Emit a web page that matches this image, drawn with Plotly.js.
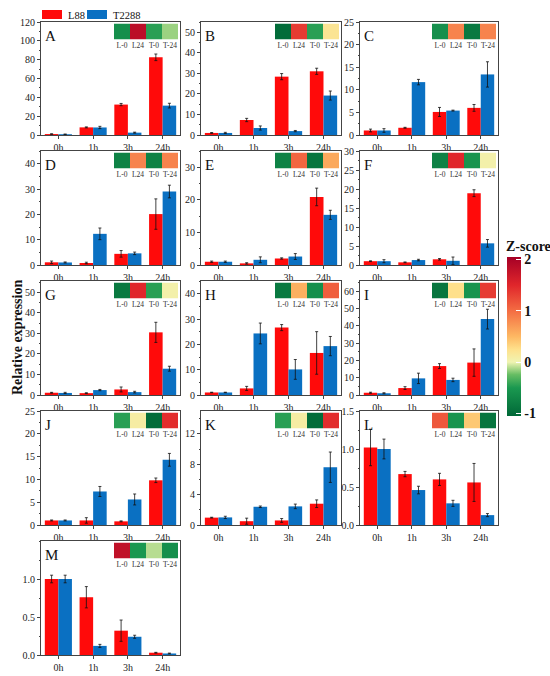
<!DOCTYPE html>
<html><head><meta charset="utf-8">
<script src="https://cdn.plot.ly/plotly-3.0.1.min.js"></script>
<style>html,body{margin:0;padding:0;background:#fff}#chart{width:550px;height:676px}</style>
</head><body><div id="chart"></div>
<script>
// ---------- data ----------
const timePoints = ['0h', '1h', '3h', '24h'];
const heatLabels = ['L-0', 'L24', 'T-0', 'T-24'];
const seriesNames = ['L88', 'T2288'];
const panelLetters = ['A','B','C','D','E','F','G','H','I','J','K','L','M'];

const A_L88 = [1.0, 8.1, 32.3, 82.5];   const A_L88Err = [0.3, 0.5, 1.2, 3.5];
const A_T2288 = [0.8, 8.0, 2.5, 31.2];  const A_T2288Err = [0.2, 1.2, 0.5, 2.5];
const A_z = [-0.6, 1.85, -0.45, -0.15];

const B_L88 = [1.0, 7.3, 28.4, 31.0];   const B_L88Err = [0.2, 0.8, 1.5, 1.5];
const B_T2288 = [1.0, 3.4, 1.9, 19.2];  const B_T2288Err = [0.3, 1.0, 0.3, 2.2];
const B_z = [-1.0, 1.35, -0.45, 0.2];

const C_L88 = [1.0, 1.6, 5.1, 6.0];     const C_L88Err = [0.3, 0.1, 1.0, 0.75];
const C_T2288 = [1.0, 11.7, 5.4, 13.4]; const C_T2288Err = [0.4, 0.6, 0.1, 2.8];
const C_z = [-0.6, 0.85, -0.85, 0.85];

const D_L88 = [1.06, 0.8, 4.4, 20.1];   const D_L88Err = [0.5, 0.3, 1.3, 6.0];
const D_T2288 = [1.0, 12.3, 4.6, 29.0]; const D_T2288Err = [0.2, 2.3, 0.5, 2.5];
const D_z = [-0.75, 0.85, -0.75, 0.85];

const E_L88 = [1.0, 0.5, 2.0, 20.9];    const E_L88Err = [0.2, 0.2, 0.2, 2.7];
const E_T2288 = [1.0, 1.6, 2.6, 15.4];  const E_T2288Err = [0.2, 0.9, 0.9, 1.4];
const E_z = [-0.75, 1.05, -0.9, 0.6];

const F_L88 = [1.0, 0.7, 1.5, 18.9];    const F_L88Err = [0.1, 0.1, 0.2, 0.9];
const F_T2288 = [1.0, 1.3, 1.1, 5.7];   const F_T2288Err = [0.4, 0.2, 1.0, 1.0];
const F_z = [-0.75, 1.5, -0.55, 0.05];

const G_L88 = [1.1, 0.9, 2.7, 30.5];    const G_L88Err = [0.2, 0.2, 1.2, 4.9];
const G_T2288 = [1.0, 2.4, 1.4, 12.8];  const G_T2288Err = [0.3, 0.3, 0.4, 1.2];
const G_z = [-0.85, 1.5, -0.45, 0.05];

const H_L88 = [1.0, 2.6, 26.6, 16.6];   const H_L88Err = [0.1, 0.8, 1.2, 8.4];
const H_T2288 = [1.0, 24.3, 10.1, 19.3]; const H_T2288Err = [0.1, 4.1, 3.9, 3.8];
const H_z = [-0.85, 0.55, -0.6, 1.1];

const I_L88 = [1.3, 4.0, 16.7, 18.7];   const I_L88Err = [0.3, 0.8, 1.4, 7.9];
const I_T2288 = [1.0, 9.6, 8.7, 43.8];  const I_T2288Err = [0.3, 3.0, 1.0, 5.7];
const I_z = [-0.9, 0.25, -0.55, 1.35];

const J_L88 = [1.0, 1.0, 0.8, 9.8];     const J_L88Err = [0.1, 0.6, 0.1, 0.5];
const J_T2288 = [1.0, 7.35, 5.6, 14.3]; const J_T2288Err = [0.1, 1.1, 1.2, 1.4];
const J_z = [-0.45, 0.1, -1.0, 1.45];

const K_L88 = [0.97, 0.5, 0.6, 2.8];    const K_L88Err = [0.05, 0.4, 0.25, 0.5];
const K_T2288 = [1.0, 2.4, 2.45, 7.6];  const K_T2288Err = [0.15, 0.1, 0.3, 2.0];
const K_z = [-0.45, 0.1, -1.0, 1.45];

const L_L88 = [1.02, 0.67, 0.60, 0.56];   const L_L88Err = [0.24, 0.035, 0.08, 0.25];
const L_T2288 = [1.0, 0.46, 0.285, 0.13]; const L_T2288Err = [0.13, 0.05, 0.04, 0.02];
const L_z = [1.15, -0.55, 0.4, -0.9];

const M_L88 = [1.0, 0.76, 0.32, 0.03];    const M_L88Err = [0.05, 0.14, 0.14, 0.005];
const M_T2288 = [1.0, 0.12, 0.24, 0.02];  const M_T2288Err = [0.05, 0.02, 0.02, 0.005];
const M_z = [1.8, -0.5, -0.1, -0.6];

const panelL88 = [A_L88,B_L88,C_L88,D_L88,E_L88,F_L88,G_L88,H_L88,I_L88,J_L88,K_L88,L_L88,M_L88];
const panelL88Err = [A_L88Err,B_L88Err,C_L88Err,D_L88Err,E_L88Err,F_L88Err,G_L88Err,H_L88Err,I_L88Err,J_L88Err,K_L88Err,L_L88Err,M_L88Err];
const panelT2288 = [A_T2288,B_T2288,C_T2288,D_T2288,E_T2288,F_T2288,G_T2288,H_T2288,I_T2288,J_T2288,K_T2288,L_T2288,M_T2288];
const panelT2288Err = [A_T2288Err,B_T2288Err,C_T2288Err,D_T2288Err,E_T2288Err,F_T2288Err,G_T2288Err,H_T2288Err,I_T2288Err,J_T2288Err,K_T2288Err,L_T2288Err,M_T2288Err];
const panelZ = [A_z,B_z,C_z,D_z,E_z,F_z,G_z,H_z,I_z,J_z,K_z,L_z,M_z];

// ---------- axis settings ----------
const yMax   = [120, 55, 25, 45, 35, 30, 55.5, 45, 65.8, 25, 15, 1.5, 1.5];
const yDtick = [20, 10, 5, 10, 10, 5, 10, 10, 10, 5, 4, 0.5, 0.5];

// ---------- layout geometry (px) ----------
const W = 550, H = 676;
const colX = [[41, 180], [201, 341], [360, 498]];
const rowY = [[22, 135], [151, 265], [281, 395], [411, 525], [541, 655]];
const FONT = 'Liberation Serif, Times New Roman, serif';
const RED = '#ff0a0a', BLUE = '#0a70c2';

const px = x => x / W;
const py = y => 1 - y / H;

const legendBase = {orientation: 'h', y: py(0), xanchor: 'left', yanchor: 'top',
  font: {family: FONT, size: 10.5, color: '#111'}, bgcolor: 'rgba(0,0,0,0)',
  itemwidth: 30, tracegroupgap: 0, itemclick: false};

const traces = [];
const layout = {
  width: W, height: H,
  margin: {l: 0, r: 0, t: 0, b: 0},
  paper_bgcolor: '#fff', plot_bgcolor: '#fff',
  font: {family: FONT, color: '#222', size: 10},
  barmode: 'group', bargap: 0.22, bargroupgap: 0,
  showlegend: true,
  legend: Object.assign({}, legendBase, {x: px(28)}),
  legend2: Object.assign({}, legendBase, {x: px(73)}),
  coloraxis: {
    cmin: -1.05, cmax: 2.05,
    colorscale: [
      [0.0, '#006837'], [0.177, '#1a9850'], [0.26, '#66bd63'], [0.339, '#f0f4b2'],
      [0.42, '#fee08b'], [0.5, '#fdb863'], [0.661, '#f46d43'], [0.823, '#e0262b'], [1.0, '#a50026']
    ],
    colorbar: {
      x: px(507), xanchor: 'left', xpad: 0, ypad: 0, thickness: 14,
      len: (416 - 257) / H, lenmode: 'fraction', y: py(336.5), yanchor: 'middle',
      tickvals: [-1, 0, 1, 2], ticktext: ['-1', '0', '1', '2'],
      ticks: 'inside', ticklen: 5, tickcolor: '#ffffff', tickwidth: 1,
      tickfont: {family: FONT, size: 14, color: '#111', weight: 'bold'},
      outlinewidth: 0
    }
  },
  annotations: [],
  shapes: []
};

panelLetters.forEach((letter, i) => {
  const col = i % 3, row = Math.floor(i / 3);
  const [x0, x1] = colX[col];
  const [y0, y1] = rowY[row];
  const bi = 2 * i + 1, hi = 2 * i + 2;
  const bx = 'x' + (bi === 1 ? '' : bi), by = 'y' + (bi === 1 ? '' : bi);
  const hx = 'x' + hi, hy = 'y' + hi;

  traces.push({
    type: 'bar', name: seriesNames[0], x: timePoints, y: panelL88[i],
    xaxis: bx, yaxis: by, marker: {color: RED, line: {width: 0}},
    error_y: {type: 'data', array: panelL88Err[i], visible: true, color: '#111', thickness: 0.8, width: 1.5},
    legendgroup: 'L88', legend: 'legend', showlegend: i === 0, hoverinfo: 'skip'
  });
  traces.push({
    type: 'bar', name: seriesNames[1], x: timePoints, y: panelT2288[i],
    xaxis: bx, yaxis: by, marker: {color: BLUE, line: {width: 0}},
    error_y: {type: 'data', array: panelT2288Err[i], visible: true, color: '#111', thickness: 0.8, width: 1.5},
    legendgroup: 'T2288', legend: 'legend2', showlegend: i === 0, hoverinfo: 'skip'
  });
  traces.push({
    type: 'heatmap', z: [panelZ[i]], x: heatLabels, y: ['z'],
    xaxis: hx, yaxis: hy, coloraxis: 'coloraxis', showlegend: false, hoverinfo: 'skip'
  });

  const bxKey = 'xaxis' + (bi === 1 ? '' : bi), byKey = 'yaxis' + (bi === 1 ? '' : bi);
  layout[bxKey] = {
    domain: [px(x0), px(x1)], anchor: by, type: 'category', range: [-0.5, 3.5],
    showline: true, linecolor: '#444', linewidth: 1, mirror: true,
    ticks: 'outside', ticklen: 3, tickcolor: '#444', showgrid: false, zeroline: false,
    tickfont: {family: FONT, size: 10, color: '#222'}, fixedrange: true
  };
  const yax = {
    domain: [py(y1), py(y0)], anchor: bx, range: [0, yMax[i]], dtick: yDtick[i], tick0: 0,
    showline: true, linecolor: '#444', linewidth: 1, mirror: true,
    ticks: 'outside', ticklen: 3, tickcolor: '#444', showgrid: false, zeroline: false,
    tickfont: {family: FONT, size: 10, color: '#222'}, fixedrange: true,
    minor: {ticks: 'outside', ticklen: 1.5, dtick: yDtick[i] / 2, tickcolor: '#444', showgrid: false}
  };
  if (yDtick[i] < 1) yax.tickformat = '.1f';
  if (letter === 'M') { yax.tickmode = 'array'; yax.tickvals = [0, 0.5, 1.0]; yax.ticktext = ['0.0','0.5','1.0']; }
  layout[byKey] = yax;

  layout['xaxis' + hi] = {
    domain: [px(x1 - 66), px(x1 - 2)], anchor: hy, showgrid: false, zeroline: false,
    showline: false, ticks: '', ticklabelstandoff: 0,
    tickfont: {family: FONT, size: 7.5, color: '#333'}, fixedrange: true
  };
  layout['yaxis' + hi] = {
    domain: [py(y0 + 17.5), py(y0 + 1.5)], anchor: hx, visible: false, fixedrange: true
  };

  layout.annotations.push({
    text: letter, xref: 'paper', yref: 'paper', x: px(x0 + 2), y: py(y0 + 4),
    xanchor: 'left', yanchor: 'top', showarrow: false,
    font: {family: FONT, size: 15, color: '#111'}
  });
});

layout.annotations.push({
  text: 'Relative expression', xref: 'paper', yref: 'paper', x: px(17), y: py(338),
  xanchor: 'center', yanchor: 'middle', textangle: -90, showarrow: false,
  font: {family: FONT, size: 14, color: '#111', weight: 'bold'}
});
layout.annotations.push({
  text: 'Z-score', xref: 'paper', yref: 'paper', x: px(504), y: py(256),
  xanchor: 'left', yanchor: 'bottom', showarrow: false,
  font: {family: FONT, size: 14, color: '#111', weight: 'bold'}
});

Plotly.newPlot('chart', traces, layout, {staticPlot: true, displayModeBar: false}).then(gd => {
  // widen legend bar symbols to rectangles like the reference
  gd.querySelectorAll('.legendpoints path').forEach(p => {
    p.setAttribute('d', 'M14,4.5H-6V-4.5H14Z');
  });
});
</script>
</body></html>
